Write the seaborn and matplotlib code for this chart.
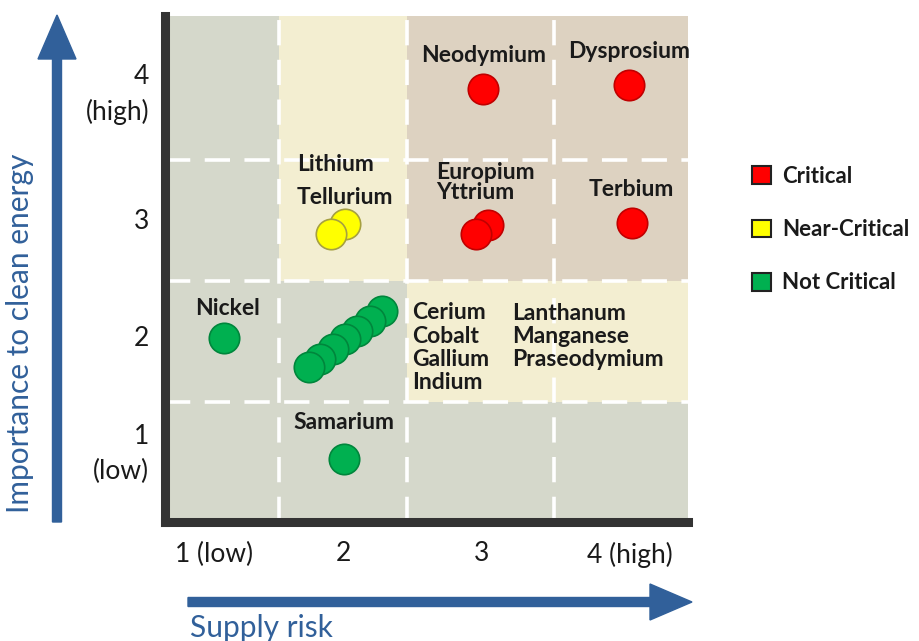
import numpy as np
import pandas as pd
import matplotlib
matplotlib.use("Agg")
import matplotlib.pyplot as plt
from matplotlib.colors import ListedColormap
from matplotlib.patches import FancyArrow, Patch
from matplotlib.transforms import IdentityTransform
import seaborn as sns

# ---------------------------------------------------------------
# DATA
# ---------------------------------------------------------------
# drawing order matters: later rows sit on top of earlier ones
elements = ["Dysprosium", "Neodymium", "Terbium", "Europium", "Yttrium",
            "Lithium", "Tellurium",
            "Praseodymium", "Manganese", "Lanthanum", "Indium",
            "Gallium", "Cobalt", "Cerium",
            "Nickel", "Samarium"]
supply_risk = [4.07, 3.01, 4.09, 3.05, 2.96,
               2.01, 1.91,
               2.28, 2.19, 2.10, 2.01, 1.92, 1.83, 1.75,
               1.13, 2.00]
importance = [4.12, 4.09, 2.98, 2.96, 2.89,
              2.97, 2.89,
              2.25, 2.17, 2.09, 2.02, 1.94, 1.86, 1.79,
              2.03, 1.03]
category = ["Critical"] * 5 + ["Near-Critical"] * 2 + ["Not Critical"] * 9

categories = ["Critical", "Near-Critical", "Not Critical"]
cat_colors = ["#ff0000", "#ffff00", "#00b050"]
cat_edges = ["#c00000", "#a6a040", "#00863c"]

x_ticks = [1.06, 2.0, 3.0, 4.08]
x_ticklabels = ["1 (low)", "2", "3", "4 (high)"]
y_ticks = [4.1, 3.01, 2.05, 1.13]
y_ticklabels = ["4\n(high)", "3", "2", "1\n(low)"]

# zone grid: 0 = low, 1 = near, 2 = high  (rows bottom -> top)
x_edges = [0.7, 1.53, 2.46, 3.53, 4.5]
y_edges = [0.51, 1.5, 2.5, 3.5, 4.69]
zones = np.array([[0, 0, 0, 0],
                  [0, 0, 1, 1],
                  [0, 1, 2, 2],
                  [0, 1, 2, 2]])
zone_colors = ["#d5d8cb", "#f3eed1", "#ddd2c1"]

# label text and where it sits (x, y, horizontal alignment)
labels = [
    ("Neodymium", 3.02, 4.36, "center"),
    ("Dysprosium", 4.07, 4.40, "center"),
    ("Lithium", 1.66, 3.46, "left"),
    ("Tellurium", 1.66, 3.19, "left"),
    ("Europium", 2.67, 3.40, "left"),
    ("Yttrium", 2.67, 3.23, "left"),
    ("Terbium", 4.09, 3.26, "center"),
    ("Nickel", 1.16, 2.27, "center"),
    ("Samarium", 2.00, 1.33, "center"),
    ("Cerium\nCobalt\nGallium\nIndium", 2.50, 1.95, "left"),
    ("Lanthanum\nManganese\nPraseodymium", 3.22, 2.04, "left"),
]

df = pd.DataFrame({"element": elements, "supply": supply_risk,
                   "importance": importance, "category": category})

# ---------------------------------------------------------------
# PLOT
# ---------------------------------------------------------------
sns.set_theme(style="white")
plt.rcParams["font.family"] = ["Lato", "DejaVu Sans"]

W, H = 919, 641
fig = plt.figure(figsize=(W / 100, H / 100), dpi=100)
ax = fig.add_axes([164.5 / W, (H - 522) / H, (688 - 164.5) / W, (522 - 16) / H])

ax.pcolormesh(x_edges, y_edges, zones, cmap=ListedColormap(zone_colors),
              vmin=-0.5, vmax=2.5, zorder=0)
for xv in x_edges[1:-1]:
    ax.axvline(xv, color="white", lw=2.6, dashes=(7, 4), zorder=1)
for yv in y_edges[1:-1]:
    ax.axhline(yv, color="white", lw=2.6, dashes=(7, 4), zorder=1)

for cat, fc, ec in zip(categories, cat_colors, cat_edges):
    sub = df[df["category"] == cat]
    sns.scatterplot(data=sub, x="supply", y="importance", ax=ax, color=fc,
                    edgecolor=ec, linewidth=1.2, s=480, zorder=3, legend=False)

for text, lx, ly, ha in labels:
    ax.text(lx, ly, text, ha=ha, va="center", fontsize=16.5, fontweight="bold",
            color="#1a1a1a", linespacing=1.13, zorder=4)

ax.set_xlim(x_edges[0], x_edges[-1])
ax.set_ylim(y_edges[0], y_edges[-1])
ax.set_xticks(x_ticks)
ax.set_xticklabels(x_ticklabels)
ax.set_yticks(y_ticks)
ax.set_yticklabels(y_ticklabels, linespacing=1.45)
ax.tick_params(axis="both", length=0, labelsize=19, colors="#1a1a1a")
ax.tick_params(axis="x", pad=14)
ax.tick_params(axis="y", pad=11)
ax.set_xlabel("")
ax.set_ylabel("")

for side in ["top", "right"]:
    ax.spines[side].set_visible(False)
for side in ["left", "bottom"]:
    ax.spines[side].set_color("#333333")
    ax.spines[side].set_linewidth(6.5)
    ax.spines[side].set_capstyle("projecting")

# legend
handles = [Patch(facecolor=c, edgecolor="#222222", linewidth=1.5, label=n)
           for n, c in zip(categories, cat_colors)]
fig.legend(handles=handles, loc="upper left",
           bbox_to_anchor=(752 / W, (H - 166) / H), frameon=False,
           borderpad=0, borderaxespad=0,
           handlelength=0.85, handleheight=0.85, handletextpad=0.5,
           labelspacing=1.45, prop={"size": 16, "weight": "bold"},
           labelcolor="#1a1a1a")

# axis arrows and titles
blue = "#31609a"
fig.add_artist(FancyArrow(57, H - 522, 0, 507, width=9, head_width=38,
                          head_length=44, length_includes_head=True,
                          color=blue, transform=IdentityTransform()))
fig.add_artist(FancyArrow(188, H - 602, 504, 0, width=9, head_width=36,
                          head_length=42, length_includes_head=True,
                          color=blue, transform=IdentityTransform()))
fig.text(20 / W, (H - 333) / H, "Importance to clean energy", rotation=90,
         ha="center", va="center", fontsize=21.5, color=blue)
fig.text(190 / W, (H - 628) / H, "Supply risk", ha="left", va="center",
         fontsize=21.5, color=blue)

fig.savefig("out.png", dpi=100)
